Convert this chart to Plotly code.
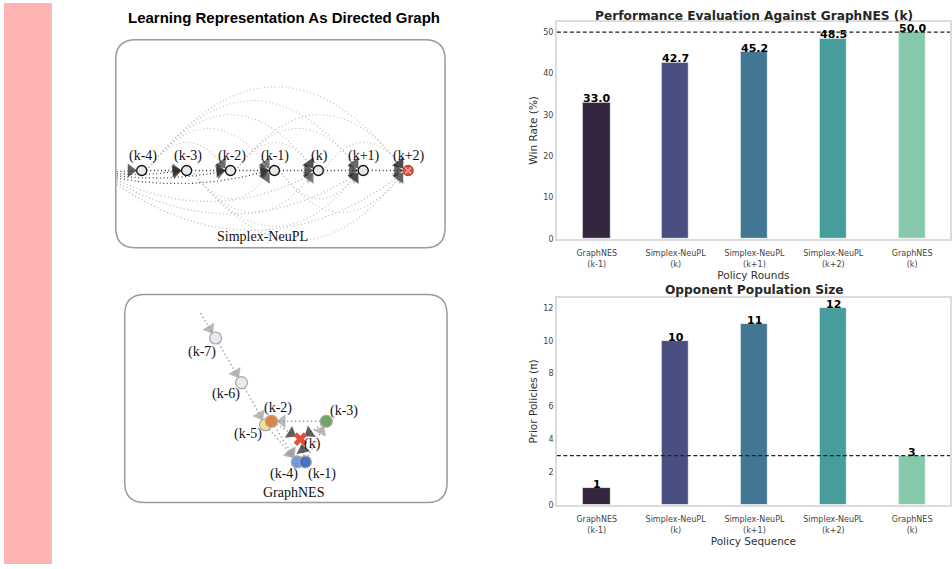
import numpy as np
import plotly.graph_objects as go

# ---------------- bar chart data ----------------
round_labels = ["GraphNES<br>(k-1)", "Simplex-NeuPL<br>(k)", "Simplex-NeuPL<br>(k+1)",
                "Simplex-NeuPL<br>(k+2)", "GraphNES<br>(k)"]
win_rates = [33.0, 42.7, 45.2, 48.5, 50.0]
prior_policies = [1, 10, 11, 12, 3]
win_reference = 50.0
population_reference = 3
bar_colors = ["#35263f", "#494f80", "#427693", "#479d9c", "#85c9aa"]

# ---------------- diagram data ----------------
simplex_labels = ["(k-4)", "(k-3)", "(k-2)", "(k-1)", "(k)", "(k+1)", "(k+2)"]
simplex_x = [142, 187, 231, 275, 319, 364, 409]
simplex_row_y = 172
external_bends = [0, 6, 12, 22, 56, 80, 112]

graphnes_names = ["(k-7)", "(k-6)", "(k-5)", "(k-2)", "(k-3)", "(k-4)", "(k-1)", "(k)"]
graphnes_x = [216, 242, 266, 272, 327, 298, 306, 301]
graphnes_y = [341, 386, 428.5, 425, 425, 466, 466, 443]
graphnes_fill = ["#e9e9e9", "#e9e9e9", "#f6dc95", "#e0823d", "#70a660", "#7399db", "#4472c4", "#e2503a"]
graphnes_label_x = [202, 226, 249, 279, 345, 285, 323, 313]
graphnes_label_y = [355, 397, 438, 412, 415, 478, 478, 448]
graphnes_edges = [("start", "(k-7)", "#9a9a9a"), ("(k-7)", "(k-6)", "#9a9a9a"),
                  ("(k-6)", "(k-5)", "#9a9a9a"), ("(k-3)", "(k-2)", "#9a9a9a"),
                  ("(k-3)", "(k)", "#1e1e1e"), ("(k-2)", "(k)", "#1e1e1e"),
                  ("(k-1)", "(k)", "#1e1e1e"), ("(k-1)", "(k-3)", "#9a9a9a"),
                  ("(k-5)", "(k-4)", "#9a9a9a"), ("(k-2)", "(k-4)", "#9a9a9a")]
graphnes_start = (201, 316)

W, H = 952, 569
fig = go.Figure()

def py(p):
    return 1 - p / H

def px(p):
    return p / W

# ---------------- bar charts ----------------
xs = list(range(len(round_labels)))
fig.add_trace(go.Bar(x=xs, y=win_rates, marker=dict(color=bar_colors, line=dict(color="rgba(255,255,255,0.7)", width=1)),
                     width=0.345, xaxis="x", yaxis="y", showlegend=False, hoverinfo="skip"))
fig.add_trace(go.Bar(x=xs, y=prior_policies, marker=dict(color=bar_colors, line=dict(color="rgba(255,255,255,0.7)", width=1)),
                     width=0.345, xaxis="x2", yaxis="y2", showlegend=False, hoverinfo="skip"))

xr = [-0.506, 4.48]
axis_common = dict(showline=True, mirror=True, linecolor="#dcdcdc", linewidth=1.5, showgrid=False,
                   zeroline=False, tickfont=dict(family="DejaVu Sans", size=8, color="#444444"))
title_font = dict(family="DejaVu Sans", size=10.5, color="#333333")
layout_axes = dict(
    xaxis=dict(domain=[px(558), 1.0], range=xr, tickvals=xs, ticktext=round_labels,
               ticks="outside", ticklen=6, tickcolor="rgba(0,0,0,0)",
               title=dict(text="Policy Rounds", font=title_font, standoff=0),
               anchor="y", **axis_common),
    yaxis=dict(domain=[py(241), py(22)], range=[0, 52.5], tickvals=[0, 10, 20, 30, 40, 50], ticks="",
               title=dict(text="Win Rate (%)", font=title_font, standoff=4),
               anchor="x", **axis_common),
    xaxis2=dict(domain=[px(558), 1.0], range=xr, tickvals=xs, ticktext=round_labels,
                ticks="outside", ticklen=6, tickcolor="rgba(0,0,0,0)",
                title=dict(text="Policy Sequence", font=title_font, standoff=0),
                anchor="y2", **axis_common),
    yaxis2=dict(domain=[py(509.3), py(300.7)], range=[0, 12.6], tickvals=[0, 2, 4, 6, 8, 10, 12], ticks="",
                title=dict(text="Prior Policies (π)", font=title_font, standoff=4),
                anchor="x2", **axis_common),
    xaxis3=dict(domain=[0, 0.5], range=[0, 476], visible=False, fixedrange=True),
    yaxis3=dict(domain=[0, 1], range=[569, 0], visible=False, fixedrange=True, anchor="x3"),
)

shapes = []
annotations = []

# reference lines
for yref, val in (("y", win_reference), ("y2", population_reference)):
    shapes.append(dict(type="line", xref="paper", yref=yref, x0=px(558), x1=1, y0=val, y1=val,
                       line=dict(color="#222222", width=1.2, dash="4px,2.5px")))

# value labels
for i, v in enumerate(win_rates):
    annotations.append(dict(x=i, y=v, xref="x", yref="y", text=f"<b>{v:.1f}</b>", showarrow=False,
                            xanchor="center", yanchor="bottom", yshift=-5,
                            font=dict(family="DejaVu Sans", size=11, color="black")))
for i, v in enumerate(prior_policies):
    annotations.append(dict(x=i, y=v, xref="x2", yref="y2", text=f"<b>{v}</b>", showarrow=False,
                            xanchor="center", yanchor="bottom", yshift=-5,
                            font=dict(family="DejaVu Sans", size=11, color="black")))

# titles
annotations.append(dict(x=px(756), y=py(16), xref="paper", yref="paper", showarrow=False,
                        xanchor="center", yanchor="middle",
                        text="<b>Performance Evaluation Against GraphNES (k)</b>",
                        font=dict(family="DejaVu Sans", size=12.2, color="#262626")))
annotations.append(dict(x=px(756), y=py(293), xref="paper", yref="paper", showarrow=False,
                        xanchor="center", yanchor="middle",
                        text="<b>Opponent Population Size</b>",
                        font=dict(family="DejaVu Sans", size=12.2, color="#262626")))
annotations.append(dict(x=285, y=18, xref="x3", yref="y3", showarrow=False, xanchor="center", yanchor="middle",
                        text="<b>Learning Representation As Directed Graph</b>",
                        font=dict(family="Liberation Sans", size=15, color="black")))

# pink side bar
shapes.append(dict(type="rect", xref="x3", yref="y3", x0=4, x1=52, y0=3, y1=569,
                   fillcolor="#ffb3b3", line=dict(width=0), layer="below"))

def rounded_box(x0, y0, x1, y1, r):
    return (f"M {x0+r},{y0} L {x1-r},{y0} Q {x1},{y0} {x1},{y0+r} L {x1},{y1-r} Q {x1},{y1} {x1-r},{y1} "
            f"L {x0+r},{y1} Q {x0},{y1} {x0},{y1-r} L {x0},{y0+r} Q {x0},{y0} {x0+r},{y0} Z")

shapes.append(dict(type="path", xref="x3", yref="y3", path=rounded_box(116, 40, 446, 250, 20),
                   line=dict(color="#9b9b9b", width=1.5)))
shapes.append(dict(type="path", xref="x3", yref="y3", path=rounded_box(125, 297, 448, 507, 20),
                   line=dict(color="#9b9b9b", width=1.5)))

def qbez(p0, c, p1, n=60):
    t = np.linspace(0, 1, n)[:, None]
    return (1 - t) ** 2 * np.array(p0) + 2 * (1 - t) * t * np.array(c) + t ** 2 * np.array(p1)

arrow_x, arrow_y, arrow_ang, arrow_col, arrow_size = [], [], [], [], []

def add_curve(p0, c, p1, color, width, end_gap, head_color, head_size, dash="1px,2.6px"):
    pts = qbez(p0, c, p1)
    fig.add_trace(go.Scatter(x=pts[:, 0], y=pts[:, 1], mode="lines", xaxis="x3", yaxis="y3",
                             line=dict(color=color, width=width, dash=dash), hoverinfo="skip", showlegend=False))
    d = np.array(p1, float) - np.array(c, float)
    if np.hypot(*d) < 1e-6:
        d = np.array(p1, float) - np.array(p0, float)
    u = d / np.hypot(*d)
    tip = np.array(p1, float) - u * end_gap
    ang = np.degrees(np.arctan2(u[0], -u[1]))
    arrow_x.append(tip[0]); arrow_y.append(tip[1]); arrow_ang.append(ang)
    arrow_col.append(head_color); arrow_size.append(head_size)

# ---- Simplex-NeuPL diagram: fully connected DAG
n = len(simplex_x)
shade = ["#1e1e1e", "#333333", "#4a4a4a", "#6a6a6a", "#8c8c8c", "#b0b0b0", "#c8c8c8"]
for j in range(n):
    # incoming from earlier policies outside the view
    b = external_bends[j]
    p0 = (117, simplex_row_y + 1 + j * 2.2)
    p1 = (simplex_x[j] - 5, simplex_row_y + (0 if b < 30 else 3))
    c = ((p0[0] + p1[0]) / 2, simplex_row_y + b)
    add_curve(p0, c, p1, "#444444" if b < 30 else "#b8b8b8", 1.3, 6, shade[min(j, 2)] if b < 30 else "#a0a0a0", 12)
for i in range(n):
    for j in range(i + 1, n):
        d = j - i
        p0 = (simplex_x[i] + 5, simplex_row_y)
        p1 = (simplex_x[j] - 5, simplex_row_y + (0 if d == 1 else (2 if i % 2 else -2)))
        sign = -1 if i % 2 == 0 else 1
        c = ((p0[0] + p1[0]) / 2, simplex_row_y + (0 if d == 1 else sign * 28 * d))
        col = "#333333" if d == 1 else "#bdbdbd"
        add_curve(p0, c, p1, col, 1.3 if d == 1 else 1.1, 6, shade[d - 1], 12)

# ---- GraphNES diagram
pos = {nm: (graphnes_x[k], graphnes_y[k]) for k, nm in enumerate(graphnes_names)}
pos["start"] = graphnes_start
for s, t, col in graphnes_edges:
    p0 = np.array(pos[s], float); p1 = np.array(pos[t], float)
    u = (p1 - p0) / np.hypot(*(p1 - p0))
    a = p0 + (0 if s == "start" else 6) * u
    bnd = p1 - 6 * u
    add_curve(tuple(a), tuple((a + bnd) / 2), tuple(bnd), "#a0a0a0", 1.4, 5, col, 12, dash="1.4px,2.6px")

fig.add_trace(go.Scatter(x=arrow_x, y=arrow_y, mode="markers", xaxis="x3", yaxis="y3",
                         marker=dict(symbol="triangle-up", size=arrow_size, angle=arrow_ang, color=arrow_col,
                                     line=dict(width=0)), hoverinfo="skip", showlegend=False))

# Simplex nodes
node_fill = ["#e9e9e9"] * (n - 1) + ["#e8533f"]
node_line = ["#111111"] * (n - 1) + ["#c23b2a"]
fig.add_trace(go.Scatter(x=simplex_x, y=[simplex_row_y] * n, mode="markers", xaxis="x3", yaxis="y3",
                         marker=dict(symbol="circle", size=10, color=node_fill, line=dict(color=node_line, width=1.3)),
                         hoverinfo="skip", showlegend=False))
fig.add_trace(go.Scatter(x=[simplex_x[-1]], y=[simplex_row_y], mode="markers", xaxis="x3", yaxis="y3",
                         marker=dict(symbol="x-thin", size=6, line=dict(color="#f4b0a5", width=1.2)),
                         hoverinfo="skip", showlegend=False))
for k, lab in enumerate(simplex_labels):
    annotations.append(dict(x=simplex_x[k] + 1, y=simplex_row_y - 15, xref="x3", yref="y3", text=lab, showarrow=False,
                            font=dict(family="Liberation Serif", size=14, color="#111111")))
annotations.append(dict(x=263, y=239, xref="x3", yref="y3", text="Simplex-NeuPL", showarrow=False,
                        font=dict(family="Liberation Serif", size=14, color="#111111")))

# GraphNES nodes
circ = [k for k, nm in enumerate(graphnes_names) if nm != "(k)"]
fig.add_trace(go.Scatter(x=[graphnes_x[k] for k in circ], y=[graphnes_y[k] for k in circ], mode="markers",
                         xaxis="x3", yaxis="y3",
                         marker=dict(symbol="circle", size=12, color=[graphnes_fill[k] for k in circ],
                                     line=dict(color="#a8a8a8", width=1.2)),
                         hoverinfo="skip", showlegend=False))
kk = graphnes_names.index("(k)")
fig.add_trace(go.Scatter(x=[graphnes_x[kk]], y=[graphnes_y[kk]], mode="markers", xaxis="x3", yaxis="y3",
                         marker=dict(symbol="x", size=12, color=graphnes_fill[kk], line=dict(width=0)),
                         hoverinfo="skip", showlegend=False))
for k, nm in enumerate(graphnes_names):
    annotations.append(dict(x=graphnes_label_x[k], y=graphnes_label_y[k], xref="x3", yref="y3", text=nm,
                            showarrow=False, font=dict(family="Liberation Serif", size=14, color="#111111")))
annotations.append(dict(x=294, y=497, xref="x3", yref="y3", text="GraphNES", showarrow=False,
                        font=dict(family="Liberation Serif", size=14, color="#111111")))

fig.update_layout(width=W, height=H, margin=dict(l=0, r=0, t=0, b=0), paper_bgcolor="white",
                  plot_bgcolor="rgba(0,0,0,0)", bargap=0, shapes=shapes, annotations=annotations,
                  showlegend=False, hovermode=False, **layout_axes)
fig.write_html("out.html", config={"displayModeBar": False},
               post_script="document.body.style.margin='0';document.body.style.padding='0';")
